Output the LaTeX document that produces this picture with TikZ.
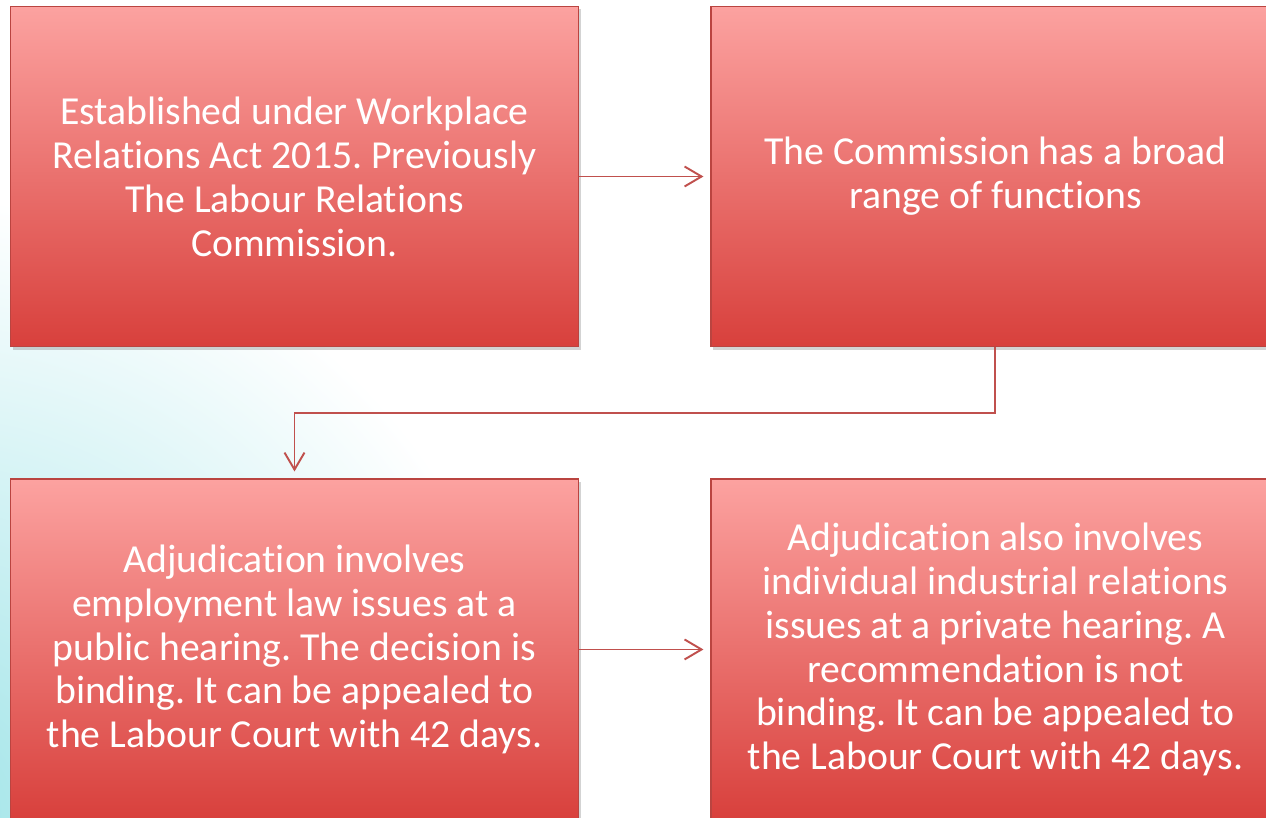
\documentclass[tikz,border=0pt]{standalone}
\usepackage{fontspec}
\setmainfont{Carlito}[Ligatures=CommonOff]
\usetikzlibrary{arrows.meta,positioning,shadows}
\tikzset {>={Straight Barb[length=0.34cm,width=0.4cm]}}
\frenchspacing
\definecolor{linkred}{RGB}{192,80,77}
\definecolor{boxtop}{RGB}{252,162,160}
\definecolor{boxbot}{RGB}{216,64,60}
\definecolor{boxedge}{RGB}{186,68,64}
\definecolor{bgcyan}{RGB}{160,228,232}
\tikzset{card/.style={rectangle,minimum width=11.38cm,minimum height=6.82cm,top color=boxtop,bottom color=boxbot,draw=boxedge,line width=.6pt,text=white,align=center,font=\fontsize{22.6}{25}\selectfont,drop shadow={opacity=.35,shadow xshift=.5mm,shadow yshift=-.6mm}},
link/.style={->,draw=linkred,line width=1.1pt,shorten >=0.14cm}}

\begin{document}
\begin{tikzpicture}[x=0.02cm,y=-0.02cm]
\useasboundingbox (0,0) rectangle (1266,817);
\clip (0,0) rectangle (1266,817);
\shade[inner color=bgcyan,outer color=white] (-80,817) circle (620);
\node[card] (est) at (294.5,176.5) {Established under Workplace\\Relations Act 2015. Previously\\The Labour Relations\\Commission.};
\node[card,right=2.62cm of est] (comm) {The Commission has a broad\\range of functions};
\node[card,below=2.62cm of est] (adj) {Adjudication involves\\employment law issues at a\\public hearing. The decision is\\binding. It can be appealed to\\the Labour Court with 42 days.};
\node[card,below=2.62cm of comm] (adjpriv) {Adjudication also involves\\individual industrial relations\\issues at a private hearing. A\\recommendation is not\\binding. It can be appealed to\\the Labour Court with 42 days.};
\draw[link] (est) -- (comm);
\draw[link] (comm.south) -- ++(0,65.5) -| (adj.north);
\draw[link] (adj) -- (adjpriv);
\end{tikzpicture}
\end{document}
